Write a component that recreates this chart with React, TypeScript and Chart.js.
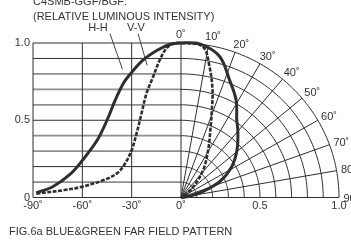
import { useEffect, useRef } from "react";
import { Chart, registerables } from "chart.js";

Chart.register(...registerables);

// ---------- data ----------
// Cartesian half: emission angle (deg) vs relative intensity
const hhLeftAngle = [-88, -78, -67, -60, -51, -45, -40, -35, -30, -23, -15, -7, 0];
const hhLeftValue = [0.03, 0.07, 0.155, 0.24, 0.37, 0.5, 0.63, 0.74, 0.81, 0.89, 0.95, 0.99, 1.0];
const vvLeftAngle = [-88, -71, -60, -47, -39, -34, -30, -27, -24, -21, -17, -13, -9, -5, 0];
const vvLeftValue = [0.025, 0.048, 0.07, 0.113, 0.156, 0.22, 0.307, 0.415, 0.544, 0.673, 0.78, 0.888, 0.964, 0.996, 1.0];

// Polar half: angle (deg from axis) vs relative intensity (radius)
const hhRightAngle = [7, 15, 22, 29, 35, 40, 49, 58, 67, 74, 82, 90];
const hhRightValue = [1.0, 0.945, 0.82, 0.72, 0.615, 0.56, 0.47, 0.38, 0.27, 0.15, 0.05, 0];
const vvRightAngle = [8, 12, 16, 19, 23, 29, 38, 48, 60, 90];
const vvRightValue = [0.986, 0.867, 0.724, 0.6, 0.476, 0.356, 0.23, 0.108, 0.03, 0];

// ticks
const angleTickValues = [-90, -60, -30, 0];
const angleTickLabels = ["-90˚", "-60˚", "-30˚", "0˚"];
const radiusTickValues = [0.5, 1.0];
const radiusTickLabels = ["0.5", "1.0"];
const intensityTickValues = [0, 0.5, 1.0];
const intensityTickLabels = ["0", "0.5", "1.0"];
const gridLevels = [0.1, 0.2, 0.3, 0.4, 0.5, 0.6, 0.7, 0.8, 0.9];
const polarRings = [0.1, 0.2, 0.3, 0.4, 0.5, 0.6, 0.7, 0.8, 0.9, 1.0];
const polarSpokes = [10, 20, 30, 40, 50, 60, 70, 80];
const polarLabelAngles = [0, 10, 20, 30, 40, 50, 60, 70, 80, 90];

const titleLine1 = "C4SMB-GGF/BGF:";
const titleLine2 = "(RELATIVE LUMINOUS INTENSITY)";
const caption = "FIG.6a BLUE&GREEN FAR FIELD PATTERN";
const seriesNames = ["H-H", "V-V"];

// ---------- layout / style ----------
const LEFT_SPAN = 148 / 158; // width of the -90..0 deg half relative to radius 1.0
const FONT = '"Liberation Sans", Arial, sans-serif';
const TEXT = "#333";
const DARK = "#2e2e2e";
const GRAY = "#8e8e8e";
const darkLevels = [0.2, 0.5, 0.9];

const rad = (d: number) => (d * Math.PI) / 180;
const angToX = (a: number) => (a / 90) * LEFT_SPAN;

function buildCurve(la: number[], lv: number[], ra: number[], rv: number[]) {
  const pts = la.map((a, i) => ({ x: angToX(a), y: lv[i] }));
  ra.forEach((a, i) => pts.push({ x: rv[i] * Math.sin(rad(a)), y: rv[i] * Math.cos(rad(a)) }));
  return pts;
}

const gridPlugin = {
  id: "farFieldGrid",
  beforeDatasetsDraw(chart: any) {
    const { ctx } = chart;
    const xs = chart.scales.x;
    const ys = chart.scales.y;
    const X = (v: number) => xs.getPixelForValue(v);
    const Y = (v: number) => ys.getPixelForValue(v);
    ctx.save();
    // horizontal levels on the cartesian half
    gridLevels.forEach((lv) => {
      const dark = darkLevels.includes(lv);
      ctx.strokeStyle = dark ? DARK : GRAY;
      ctx.lineWidth = dark ? 1 : 1.8;
      ctx.beginPath();
      ctx.moveTo(X(-LEFT_SPAN), Y(lv));
      ctx.lineTo(X(0), Y(lv));
      ctx.stroke();
    });
    ctx.strokeStyle = DARK;
    ctx.lineWidth = 1;
    // top edge
    ctx.beginPath();
    ctx.moveTo(X(-LEFT_SPAN), Y(1));
    ctx.lineTo(X(0), Y(1));
    ctx.stroke();
    // vertical angle lines
    angleTickValues.forEach((a) => {
      ctx.beginPath();
      ctx.moveTo(X(angToX(a)), Y(0));
      ctx.lineTo(X(angToX(a)), Y(1));
      ctx.stroke();
    });
    // baseline
    ctx.beginPath();
    ctx.moveTo(X(-LEFT_SPAN), Y(0));
    ctx.lineTo(X(1), Y(0));
    ctx.stroke();
    // polar rings
    polarRings.forEach((r) => {
      ctx.beginPath();
      for (let d = 0; d <= 90; d += 1.5) {
        const px = X(r * Math.sin(rad(d)));
        const py = Y(r * Math.cos(rad(d)));
        if (d === 0) ctx.moveTo(px, py);
        else ctx.lineTo(px, py);
      }
      ctx.stroke();
    });
    // polar spokes
    polarSpokes.forEach((d) => {
      ctx.beginPath();
      ctx.moveTo(X(0), Y(0));
      ctx.lineTo(X(Math.sin(rad(d))), Y(Math.cos(rad(d))));
      ctx.stroke();
    });
    ctx.restore();
  },
  afterDraw(chart: any) {
    const { ctx } = chart;
    const xs = chart.scales.x;
    const ys = chart.scales.y;
    const X = (v: number) => xs.getPixelForValue(v);
    const Y = (v: number) => ys.getPixelForValue(v);
    ctx.save();
    ctx.fillStyle = TEXT;
    ctx.font = `11px ${FONT}`;
    ctx.textAlign = "left";
    ctx.textBaseline = "alphabetic";
    ctx.fillText(titleLine1, 33, 5);
    ctx.fillText(titleLine2, 33, 20);
    ctx.fillText(caption, 9, 235);

    // polar angle labels
    ctx.textBaseline = "middle";
    polarLabelAngles.forEach((d) => {
      const px = X(1.06 * Math.sin(rad(d)));
      const py = Y(1.06 * Math.cos(rad(d)));
      ctx.fillText(`${d}˚`, px - 5, py + 1);
    });

    // series labels with leader lines
    ctx.textAlign = "center";
    ctx.fillText(seriesNames[0], X(angToX(-50.5)), Y(1.1));
    ctx.fillText(seriesNames[1], X(angToX(-27.4)), Y(1.1));
    ctx.strokeStyle = DARK;
    ctx.lineWidth = 0.9;
    ctx.beginPath();
    ctx.moveTo(X(angToX(-43.2)), Y(1.06));
    ctx.lineTo(X(angToX(-35.6)), Y(0.83));
    ctx.moveTo(X(angToX(-26.1)), Y(1.06));
    ctx.lineTo(X(angToX(-20.6)), Y(0.855));
    ctx.stroke();
    ctx.restore();
  },
};

export default function App() {
  const ref = useRef<HTMLCanvasElement | null>(null);

  useEffect(() => {
    if (!ref.current) return;
    const xTickValues = [...angleTickValues.map(angToX), ...radiusTickValues];
    const xTickLabels = [...angleTickLabels, ...radiusTickLabels];
    const chart = new Chart(ref.current, {
      type: "scatter",
      data: {
        datasets: [
          {
            label: seriesNames[0],
            data: buildCurve(hhLeftAngle, hhLeftValue, hhRightAngle, hhRightValue),
            showLine: true,
            borderColor: DARK,
            borderWidth: 3,
            pointRadius: 0,
            tension: 0.35,
            clip: false,
          } as any,
          {
            label: seriesNames[1],
            data: buildCurve(vvLeftAngle, vvLeftValue, vvRightAngle, vvRightValue),
            showLine: true,
            borderColor: DARK,
            borderWidth: 2.6,
            borderDash: [4, 1.5],
            pointRadius: 0,
            tension: 0.35,
            clip: false,
          } as any,
        ],
      },
      options: {
        responsive: false,
        animation: false,
        devicePixelRatio: 1,
        layout: { padding: { top: 43, right: 12, left: 0, bottom: 0 } },
        plugins: { legend: { display: false }, tooltip: { enabled: false }, title: { display: false } },
        elements: { line: { capBezierPoints: false } },
        scales: {
          x: {
            type: "linear",
            min: -LEFT_SPAN,
            max: 1,
            grid: { display: false, drawTicks: false },
            border: { display: false },
            afterBuildTicks: (s: any) => {
              s.ticks = xTickValues.map((v) => ({ value: v }));
            },
            afterFit: (s: any) => {
              s.height = 42.5;
            },
            ticks: {
              autoSkip: false,
              maxRotation: 0,
              padding: 2,
              color: TEXT,
              font: { family: FONT, size: 11 },
              callback: (_v: any, i: number) => xTickLabels[i],
            },
          },
          y: {
            type: "linear",
            min: 0,
            max: 1,
            grid: { display: false, drawTicks: false },
            border: { display: false },
            afterBuildTicks: (s: any) => {
              s.ticks = intensityTickValues.map((v) => ({ value: v }));
            },
            afterFit: (s: any) => {
              s.width = 33;
            },
            ticks: {
              autoSkip: false,
              padding: 3,
              color: TEXT,
              font: { family: FONT, size: 11 },
              callback: (_v: any, i: number) => intensityTickLabels[i],
            },
          },
        },
      },
      plugins: [gridPlugin],
    });
    return () => chart.destroy();
  }, []);

  return (
    <div style={{ position: "absolute", left: 0, top: 0, width: 351, height: 240, background: "#fff" }}>
      <canvas ref={ref} width={351} height={240} style={{ display: "block" }} />
    </div>
  );
}
